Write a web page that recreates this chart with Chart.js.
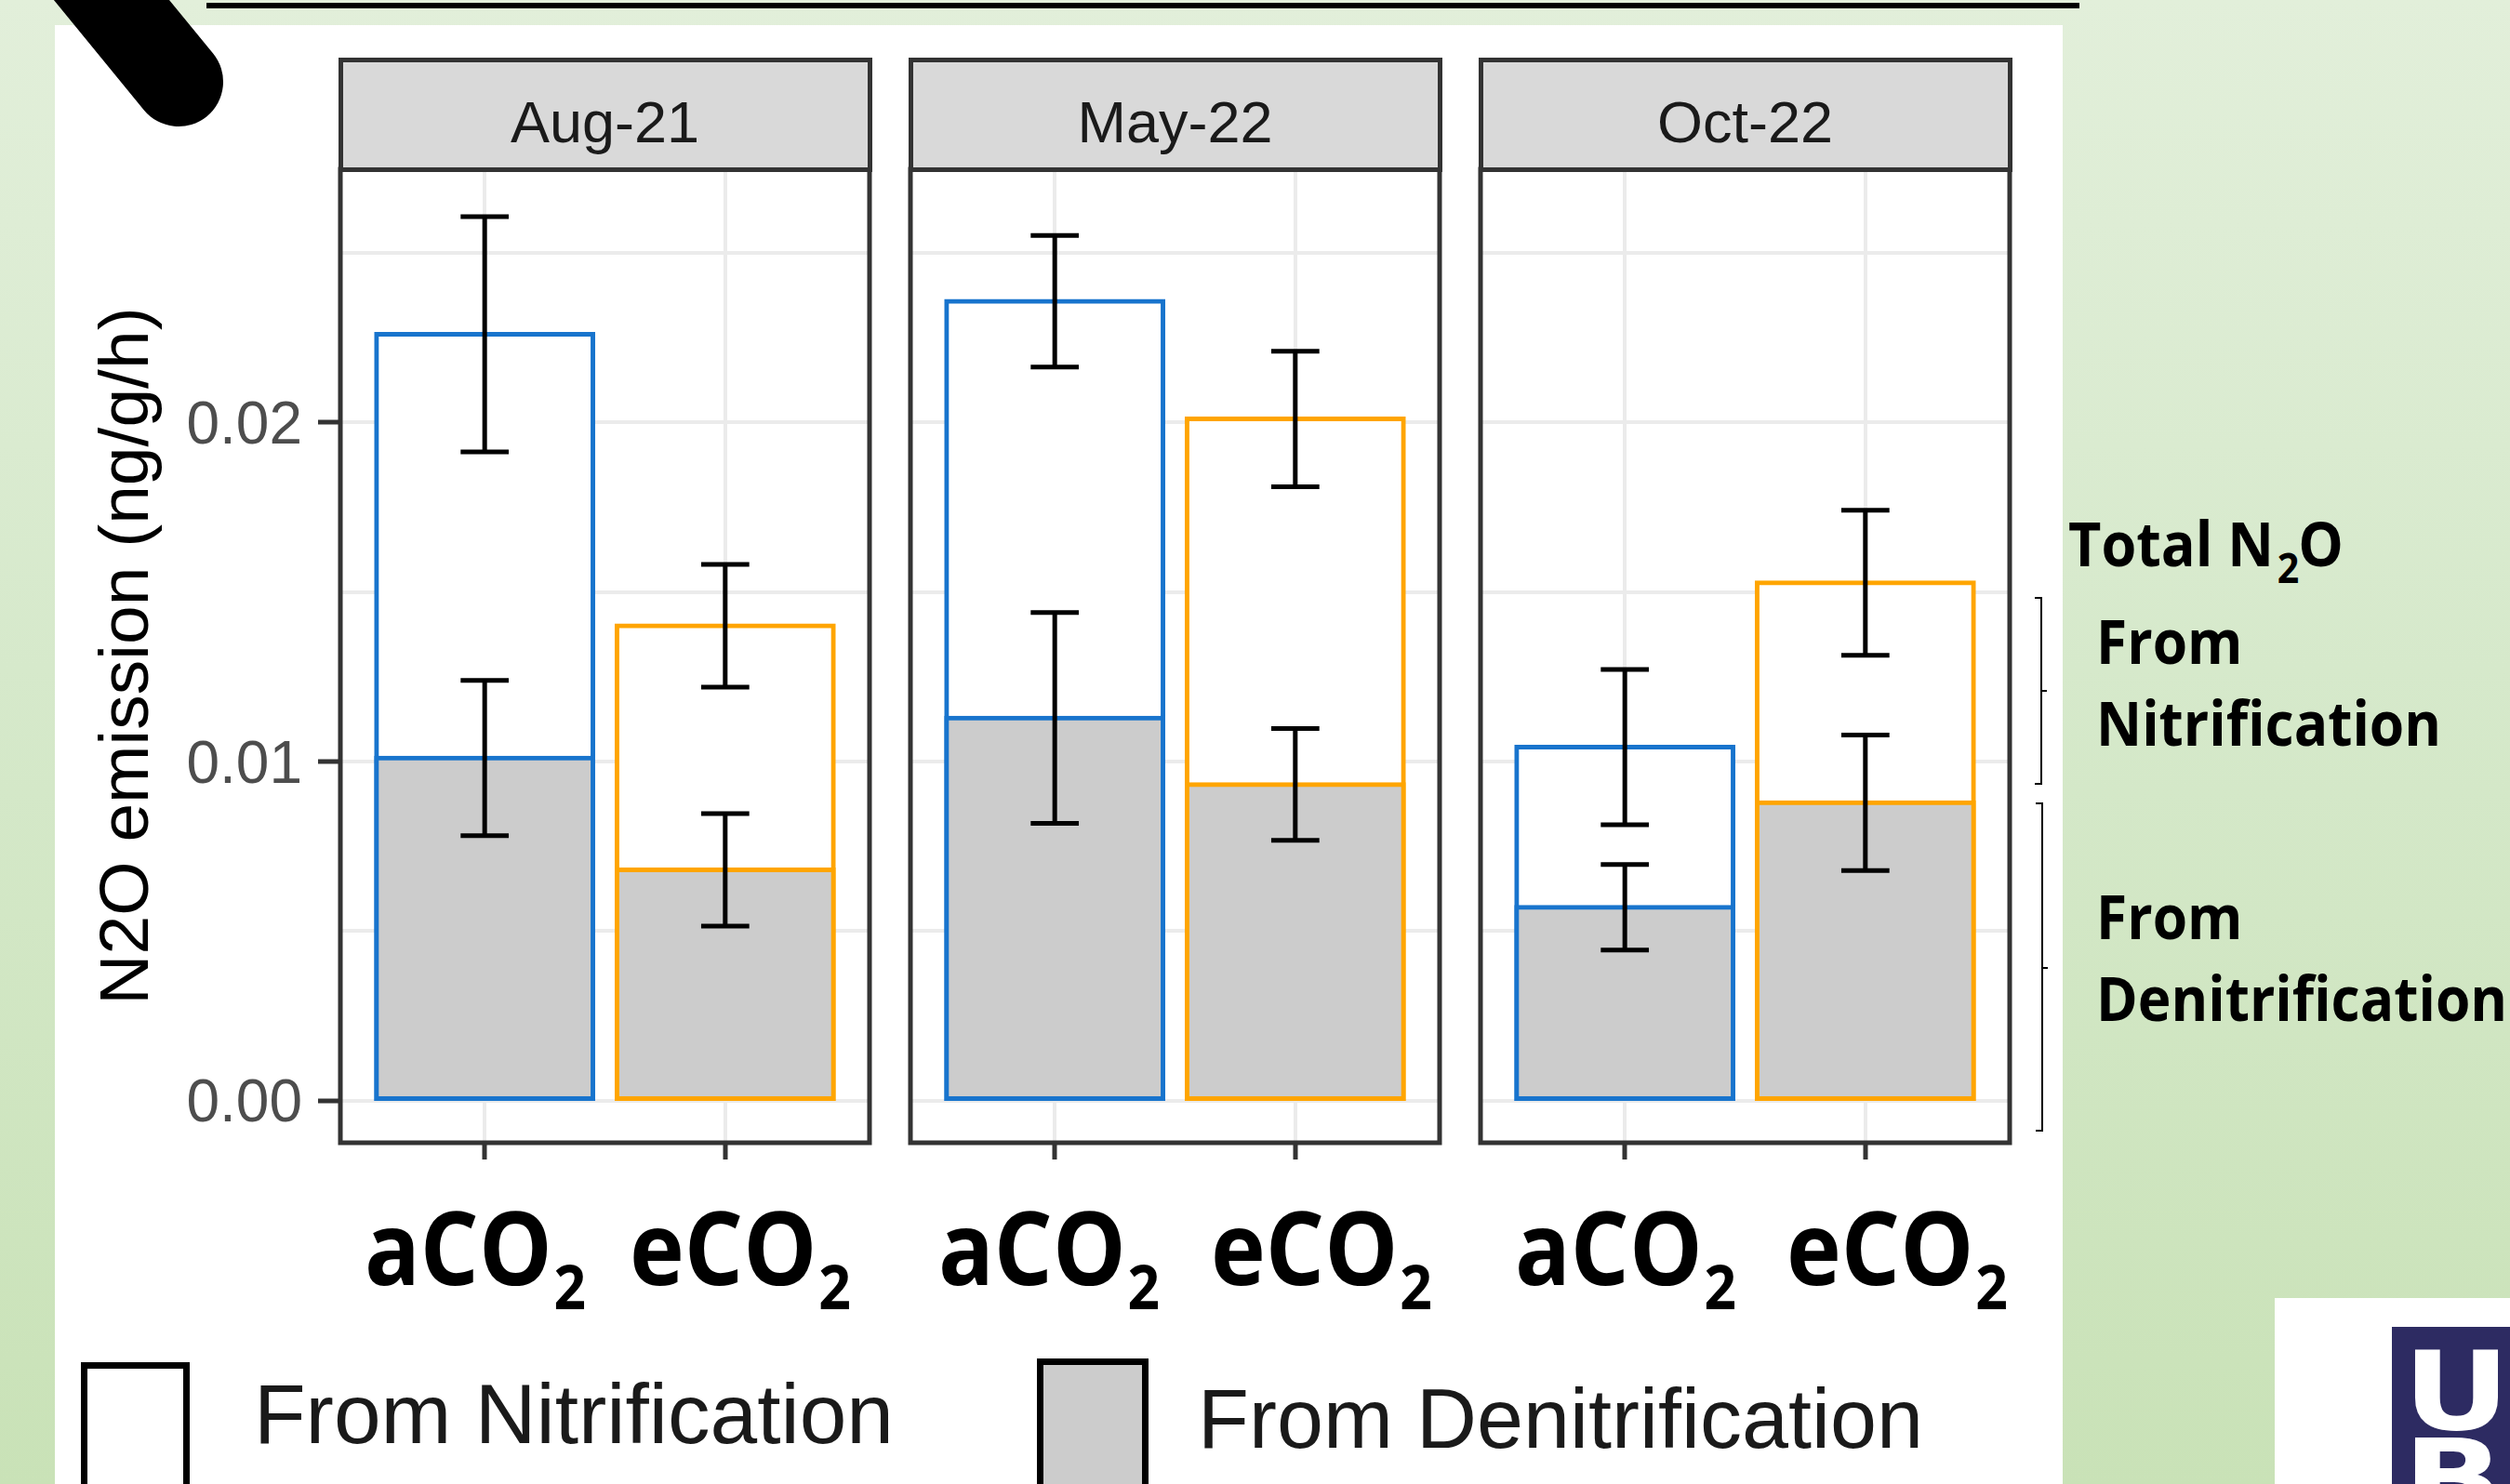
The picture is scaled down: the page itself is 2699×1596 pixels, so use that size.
<!DOCTYPE html>
<html>
<head>
<meta charset="utf-8">
<script src="https://cdn.jsdelivr.net/npm/chart.js@4.4.1/dist/chart.umd.min.js"></script>
<style>
  html, body { margin: 0; padding: 0; width: 2699px; height: 1596px; overflow: hidden; }
  body { position: relative; background: linear-gradient(to bottom, #E2EFDA 0%, #D6E9CB 45%, #C9E2B7 100%); font-family: 'Liberation Sans', Arial, sans-serif; }
  .abs { position: absolute; }
  #white { left: 59px; top: 27px; width: 2159px; height: 1569px; background: #FFFFFF; }
  #topline { left: 222px; top: 3px; width: 2014px; height: 6px; background: #000000; }
  canvas { position: absolute; }
  .strip { position: absolute; box-sizing: border-box; border: 5px solid #333333; background: #D9D9D9; }
  .t { position: absolute; white-space: nowrap; line-height: 1.2; }
  .strip-text { font-family: 'Liberation Sans', Arial, sans-serif; font-size: 63px; color: #1A1A1A; }
  .xl { font-family: 'Open Sans', sans-serif; font-weight: 700; font-size: 110px; color: #000; }
  .xl .sub { font-size: 67px; position: relative; top: 26px; margin-left: 2px; }
  .an { font-family: 'Open Sans', sans-serif; font-weight: 700; font-size: 67px; color: #000; }
  .an .sub { font-size: 45px; position: relative; top: 18px; margin-left: 4px; margin-right: -1px; }
  .lg { font-family: 'Liberation Sans', Arial, sans-serif; font-size: 91px; color: #1A1A1A; }
  .key { position: absolute; box-sizing: border-box; border: 7px solid #000; height: 260px; }
  .logo { font-family: 'DejaVu Sans', sans-serif; font-weight: 700; font-size: 118px; color: #FFFFFF; }
</style>
</head>
<body>
<div id="white" class="abs"></div>
<div id="topline" class="abs"></div>
<svg class="abs" style="left:0;top:0" width="2699" height="1596" viewBox="0 0 2699 1596">
  <line x1="88" y1="-39" x2="192" y2="88" stroke="#000" stroke-width="96" stroke-linecap="round"/>
  <path d="M2188,643 H2195 V843 H2188 M2195,743 H2201" fill="none" stroke="#000" stroke-width="2"/>
  <path d="M2189,864 H2196 V1216 H2189 M2196,1041 H2202" fill="none" stroke="#000" stroke-width="2"/>
</svg>
<div class="abs" style="left:2446px;top:1396px;width:253px;height:200px;background:#fff"></div>
<div class="abs" style="left:2572px;top:1427px;width:127px;height:169px;background:#2D2B62;overflow:hidden"></div>
<canvas id="c0" width="1000" height="1200" style="left:0px;top:100px"></canvas>
<canvas id="c1" width="620" height="1200" style="left:950px;top:100px"></canvas>
<canvas id="c2" width="620" height="1200" style="left:1570px;top:100px"></canvas>
<div id="overlay"></div>
<script>
// ---------------- data ----------------
const months = ['Aug-21', 'May-22', 'Oct-22'];
const treatments = ['aCO2', 'eCO2'];
const seriesNames = ['From Nitrification', 'From Denitrification'];
// Total N2O emission (ng/g/h), per month: [aCO2, eCO2]
const totalN2O = [[0.0226, 0.0140], [0.02357, 0.0201], [0.01042, 0.01527]];
const totalSE  = [[0.00347, 0.00181], [0.00194, 0.0020], [0.00229, 0.00214]];
// Denitrification part, per month: [aCO2, eCO2]
const denitN2O = [[0.0101, 0.0068], [0.01128, 0.00932], [0.0057, 0.00878]];
const denitSE  = [[0.00229, 0.00166], [0.00311, 0.00165], [0.00126, 0.0020]];
const yTickValues = [0, 0.005, 0.01, 0.015, 0.02, 0.025];
const yTickLabels = ['0.00', '', '0.01', '', '0.02', ''];
const yTitle = 'N2O emission (ng/g/h)';
const sideNotes = ['Total N2O', 'From', 'Nitrification', 'From', 'Denitrification'];

// ---------------- styles / layout ----------------
const treatmentColors = ['#1874CD', '#FFA500'];
const panelLayout = [
  { left: 0,    padLeft: 0,  yAxisWidth: 366, padRight: 65 },
  { left: 950,  padLeft: 29, yAxisWidth: 0,   padRight: 22 },
  { left: 1570, padLeft: 22, yAxisWidth: 0,   padRight: 29 }
];
const canvasTop = 100;

const errorBarPlugin = {
  id: 'errorBars',
  afterDatasetsDraw(chart) {
    const { ctx, scales: { x, y } } = chart;
    ctx.save();
    ctx.strokeStyle = '#000000';
    ctx.lineWidth = 5;
    chart.data.datasets.forEach(ds => {
      ds.data.forEach(pt => {
        const e = ds.errors[pt.x];
        const cx = x.getPixelForValue(pt.x);
        const half = x.getPixelForValue(pt.x + 0.1) - cx;
        const yt = y.getPixelForValue(pt.y + e);
        const yb = y.getPixelForValue(pt.y - e);
        ctx.beginPath();
        ctx.moveTo(cx, yt); ctx.lineTo(cx, yb);
        ctx.moveTo(cx - half, yt); ctx.lineTo(cx + half, yt);
        ctx.moveTo(cx - half, yb); ctx.lineTo(cx + half, yb);
        ctx.stroke();
      });
    });
    ctx.restore();
  }
};

const panelBorderPlugin = {
  id: 'panelBorder',
  afterDraw(chart) {
    const a = chart.chartArea;
    const ctx = chart.ctx;
    ctx.save();
    ctx.strokeStyle = '#333333';
    ctx.lineWidth = 5;
    ctx.strokeRect(a.left, a.top, a.right - a.left, a.bottom - a.top);
    ctx.restore();
  }
};

const charts = months.map((m, p) => {
  const L = panelLayout[p];
  const first = p === 0;
  return new Chart(document.getElementById('c' + p), {
    type: 'bar',
    data: {
      datasets: [
        {
          label: seriesNames[1],
          data: denitN2O[p].map((v, i) => ({ x: i, y: v })),
          errors: denitSE[p],
          backgroundColor: '#CCCCCC',
          borderColor: treatmentColors,
          order: 0
        },
        {
          label: seriesNames[0],
          data: totalN2O[p].map((v, i) => ({ x: i, y: v })),
          errors: totalSE[p],
          backgroundColor: '#FFFFFF',
          borderColor: treatmentColors,
          order: 1
        }
      ]
    },
    options: {
      responsive: false,
      animation: false,
      events: [],
      datasets: {
        bar: {
          grouped: false,
          categoryPercentage: 1,
          barPercentage: 0.9,
          borderWidth: 5,
          borderSkipped: false,
          inflateAmount: 2.5
        }
      },
      layout: { padding: { left: L.padLeft, right: L.padRight, top: 82, bottom: 46 } },
      plugins: { legend: { display: false }, tooltip: { enabled: false }, title: { display: false } },
      scales: {
        x: {
          type: 'linear',
          min: -0.6,
          max: 1.6,
          offset: false,
          afterBuildTicks: s => { s.ticks = treatments.map((t, i) => ({ value: i })); },
          afterFit: s => { s.height = 25; },
          ticks: { display: false },
          grid: { offset: false, color: '#EBEBEB', lineWidth: 4, drawTicks: true, tickLength: 18, tickWidth: 5, tickColor: '#333333' },
          border: { display: false }
        },
        y: {
          type: 'linear',
          min: -0.001247,
          max: 0.027466,
          afterBuildTicks: s => { s.ticks = yTickValues.map(v => ({ value: v })); },
          afterFit: s => { s.width = L.yAxisWidth; },
          ticks: {
            display: first,
            callback: (v, i) => yTickLabels[i],
            color: '#4D4D4D',
            font: { family: 'Liberation Sans', size: 64 },
            padding: 17,
            labelOffset: 5
          },
          grid: {
            color: '#EBEBEB',
            lineWidth: 4,
            drawTicks: first,
            tickLength: 24,
            tickWidth: 5,
            tickColor: c => (yTickLabels[c.index] ? '#333333' : 'rgba(0,0,0,0)')
          },
          border: { display: false },
          title: {
            display: first,
            text: yTitle,
            color: '#000000',
            font: { family: 'Liberation Sans', size: 75, lineHeight: 1.2 },
            padding: { top: 93, bottom: 0 }
          }
        }
      }
    },
    plugins: [errorBarPlugin, panelBorderPlugin]
  });
});

// ---------------- HTML text helpers ----------------
const overlay = document.getElementById('overlay');
function makeText(cls, html) {
  const el = document.createElement('div');
  el.className = 't ' + cls;
  el.innerHTML = html;
  overlay.appendChild(el);
  return el;
}
function baselineOffset(el) {
  const mk = document.createElement('span');
  mk.style.cssText = 'display:inline-block;width:0;height:0;vertical-align:baseline;';
  el.appendChild(mk);
  const off = mk.getBoundingClientRect().top - el.getBoundingClientRect().top;
  el.removeChild(mk);
  return off;
}
function place(el, left, baseline, targetWidth, fixedScale) {
  el.style.transform = 'none';
  el.style.left = left + 'px';
  el.style.top = '0px';
  el.style.top = (baseline - baselineOffset(el)) + 'px';
  let sx = fixedScale;
  if (targetWidth) sx = targetWidth / el.getBoundingClientRect().width;
  if (sx) { el.style.transformOrigin = '0 0'; el.style.transform = 'scaleX(' + sx + ')'; }
  return sx;
}
function placeCentered(el, cx, baseline) {
  el.style.left = '0px';
  const w = el.getBoundingClientRect().width;
  place(el, cx - w / 2, baseline);
}
function sub2(s) {
  return s.replace('2', '<span class="sub">2</span>');
}

// strips (facet labels) aligned to each chart's plot area
months.forEach((m, p) => {
  const a = charts[p].chartArea;
  const left = panelLayout[p].left + a.left;
  const right = panelLayout[p].left + a.right;
  const s = document.createElement('div');
  s.className = 'strip';
  s.style.left = (left - 2.5) + 'px';
  s.style.width = (right - left + 5) + 'px';
  s.style.top = '62px';
  s.style.height = (canvasTop + a.top + 2.5 - 62) + 'px';
  overlay.appendChild(s);
  placeCentered(makeText('strip-text', m), (left + right) / 2, 153);
});

// big treatment labels under the panels
const xLabelLeft = [[392, 677], [1009, 1302], [1629, 1921]];
months.forEach((m, p) => {
  treatments.forEach((t, i) => {
    place(makeText('xl', sub2(t)), xLabelLeft[p][i], 1382, 238);
  });
});

// legend
const k1 = document.createElement('div'); k1.className = 'key';
k1.style.cssText += 'left:87px;top:1465px;width:117px;background:#FFFFFF;';
overlay.appendChild(k1);
const k2 = document.createElement('div'); k2.className = 'key';
k2.style.cssText += 'left:1115px;top:1461px;width:120px;background:#CCCCCC;';
overlay.appendChild(k2);
place(makeText('lg', seriesNames[0]), 273, 1552, 688);
place(makeText('lg', seriesNames[1]), 1288, 1557, 780);

// side notes
place(makeText('an', sub2(sideNotes[0])), 2224, 609, 296);
const sNit = place(makeText('an', sideNotes[2]), 2254, 802, 371);
place(makeText('an', sideNotes[1]), 2254, 714, null, sNit);
place(makeText('an', sideNotes[3]), 2254, 1010, null, sNit);
place(makeText('an', sideNotes[4]), 2254, 1098, null, sNit);

// logo letters
place(makeText('logo', 'U'), 2584, 1537, null, 1.2);
place(makeText('logo', 'B'), 2584, 1632, null, 1.2);
</script>
</body>
</html>
